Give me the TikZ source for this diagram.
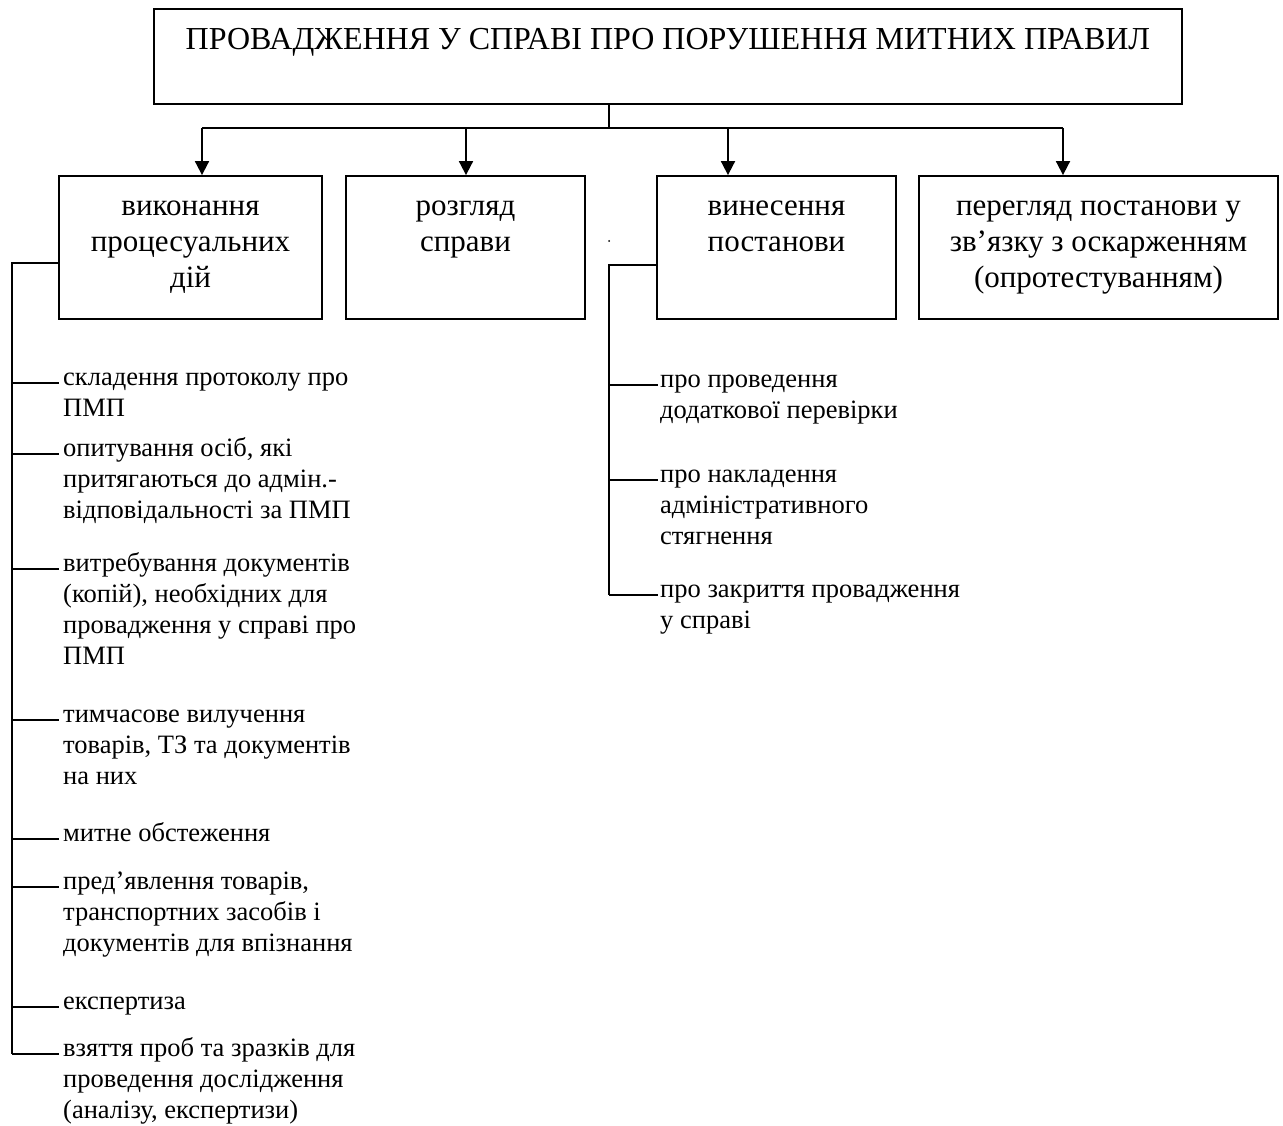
\documentclass[tikz,border=0pt]{standalone}
\usepackage{fontspec}
\setmainfont{Liberation Serif}
\usetikzlibrary{arrows.meta}
\begin{document}
\begin{tikzpicture}[x=1pt,y=-1pt,
  ln/.style={line width=1.8pt},
  box/.style={draw, line width=1.8pt, inner sep=0pt, rectangle},
  arr/.style={ln, -{Triangle[length=14pt,width=14pt]}},
  ttxt/.style={anchor=base, inner sep=0pt, font=\fontsize{32}{37}\selectfont},
  btxt/.style={anchor=base, inner sep=0pt, font=\fontsize{31}{36}\selectfont},
  ltxt/.style={anchor=base west, inner sep=0pt, font=\fontsize{26.5}{31}\selectfont}]
\useasboundingbox (0,0) rectangle (1283,1126);

% top box
\node[box, minimum width=1028pt, minimum height=95pt] (top) at (668,56.5) {};
\node[ttxt] (toptxt) at (668,50) {ПРОВАДЖЕННЯ У СПРАВІ ПРО ПОРУШЕННЯ МИТНИХ ПРАВИЛ};

% second-level boxes
\node[box, minimum width=263pt, minimum height=143pt] (b1) at (190.5,247.5) {};
\node[box, minimum width=239pt, minimum height=143pt] (b2) at (465.5,247.5) {};
\node[box, minimum width=239pt, minimum height=143pt] (b3) at (776.5,247.5) {};
\node[box, minimum width=359pt, minimum height=143pt] (b4) at (1098.5,247.5) {};

\node[btxt] (b1t) at (190.5,216) {\parbox[t]{255pt}{\centering виконання\\процесуальних\\дій}};
\node[btxt] (b2t) at (465.5,216) {\parbox[t]{230pt}{\centering розгляд\\справи}};
\node[btxt] (b3t) at (776.5,216) {\parbox[t]{230pt}{\centering винесення\\постанови}};
\node[btxt] (b4t) at (1098.5,216) {\parbox[t]{350pt}{\centering перегляд постанови у\\зв’язку з оскарженням\\(опротестуванням)}};

% connectors from top box
\coordinate (J) at (609,128);
\coordinate (A1) at (202,128);
\coordinate (A2) at (466,128);
\coordinate (A3) at (728,128);
\coordinate (A4) at (1063,128);
\draw[ln] (J |- top.south) -- (J);
\draw[ln] (A1) -- (A4);
\draw[arr] (A1) -- (A1 |- b1.north);
\draw[arr] (A2) -- (A2 |- b2.north);
\draw[arr] (A3) -- (A3 |- b3.north);
\draw[arr] (A4) -- (A4 |- b4.north);

% left list
\node[ltxt] (i1) at (63,385) {\parbox[t]{330pt}{\raggedright складення протоколу про\\ПМП}};
\node[ltxt] (i2) at (63,456) {\parbox[t]{330pt}{\raggedright опитування осіб, які\\притягаються до адмін.-\\відповідальності за ПМП}};
\node[ltxt] (i3) at (63,571) {\parbox[t]{330pt}{\raggedright витребування документів\\(копій), необхідних для\\провадження у справі про\\ПМП}};
\node[ltxt] (i4) at (63,722) {\parbox[t]{330pt}{\raggedright тимчасове вилучення\\товарів, ТЗ та документів\\на них}};
\node[ltxt] (i5) at (63,841) {\parbox[t]{330pt}{\raggedright митне обстеження}};
\node[ltxt] (i6) at (63,889) {\parbox[t]{330pt}{\raggedright пред’явлення товарів,\\транспортних засобів і\\документів для впізнання}};
\node[ltxt] (i7) at (63,1009) {\parbox[t]{330pt}{\raggedright експертиза}};
\node[ltxt] (i8) at (63,1056) {\parbox[t]{330pt}{\raggedright взяття проб та зразків для\\проведення дослідження\\(аналізу, експертизи)}};

\foreach \k in {1,...,8} {\coordinate (e\k) at ([xshift=-4pt,yshift=2pt]i\k.base west);}
\coordinate (L) at (12,263);
\draw[ln] (L -| b1.west) -- (L) -- (L |- e8);
\foreach \k in {1,...,8} {\draw[ln] (L |- e\k) -- (e\k);}

% right list
\node[ltxt] (r1) at (660,387) {\parbox[t]{330pt}{\raggedright про проведення\\додаткової перевірки}};
\node[ltxt] (r2) at (660,482) {\parbox[t]{330pt}{\raggedright про накладення\\адміністративного\\стягнення}};
\node[ltxt] (r3) at (660,597) {\parbox[t]{330pt}{\raggedright про закриття провадження\\у справі}};

\foreach \k in {1,2,3} {\coordinate (f\k) at ([xshift=-2pt,yshift=2pt]r\k.base west);}
\coordinate (R) at (609,265);
\draw[ln] (R -| b3.west) -- (R) -- (R |- f3);
\foreach \k in {1,2,3} {\draw[ln] (R |- f\k) -- (f\k);}

% stray dot
\fill (609,241) circle (1pt);
\end{tikzpicture}
\end{document}
